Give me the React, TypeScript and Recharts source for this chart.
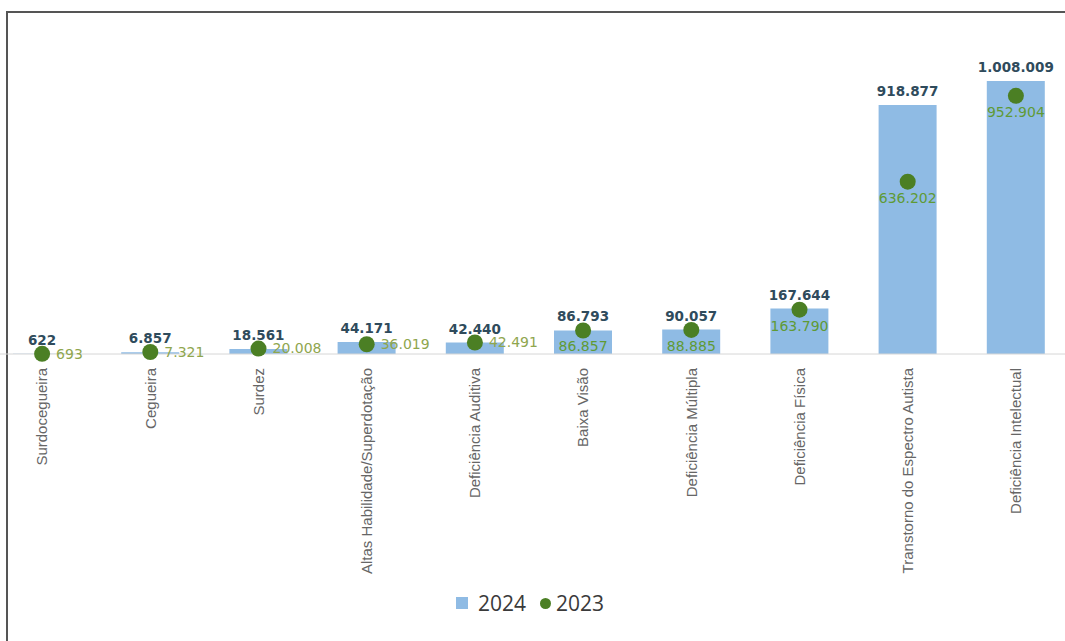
import { ComposedChart, Bar, Line, XAxis, YAxis, LabelList, Legend } from 'recharts';

const categories = [
  'Surdocegueira',
  'Cegueira',
  'Surdez',
  'Altas Habilidade/Superdotação',
  'Deficiência Auditiva',
  'Baixa Visão',
  'Deficiência Múltipla',
  'Deficiência Física',
  'Transtorno do Espectro Autista',
  'Deficiência Intelectual',
];
const values2024 = [622, 6857, 18561, 44171, 42440, 86793, 90057, 167644, 918877, 1008009];
const values2023 = [693, 7321, 20008, 36019, 42491, 86857, 88885, 163790, 636202, 952904];

const data = categories.map((name, i) => ({ name, y2024: values2024[i], y2023: values2023[i] }));

const BLUE = '#8fbbe4';
const GREEN = '#4b7f24';

// 1.008.009 style
const fmt = (v: number) => String(v).replace(/\B(?=(\d{3})+(?!\d))/g, '.');

function CategoryTick(props: any) {
  const { x, y, payload } = props;
  return (
    <text
      x={x}
      y={y + 6}
      dy="0.35em"
      transform={`rotate(-90, ${x}, ${y + 6})`}
      textAnchor="end"
      fill="#666"
      fontSize={15}
      fontFamily="'Liberation Sans', Arial, sans-serif"
    >
      {payload.value}
    </text>
  );
}

function Label2023(props: any) {
  const { x, y, value } = props;
  // small values sit to the right of the dot, larger ones below it
  if (value < 50000) {
    return (
      <text x={x + 14} y={y} dy="0.35em" textAnchor="start" fill="#8fa64e" fontSize={14}
        fontFamily="'DejaVu Sans', sans-serif">
        {fmt(value)}
      </text>
    );
  }
  return (
    <text x={x} y={y + 16} dy="0.35em" textAnchor="middle" fill="#5f9a35" fontSize={14}
      fontFamily="'DejaVu Sans', sans-serif">
      {fmt(value)}
    </text>
  );
}

function LegendBox() {
  const item = { display: 'flex', alignItems: 'center', margin: '0 7px' } as const;
  return (
    <div style={{ display: 'flex', justifyContent: 'center', fontFamily: "'Open Sans', sans-serif", fontSize: 21, color: '#3a3a3a' }}>
      <div style={item}>
        <span style={{ width: 12, height: 12, background: BLUE, marginRight: 10, display: 'inline-block' }} />
        2024
      </div>
      <div style={item}>
        <span style={{ width: 11, height: 11, borderRadius: 6, background: GREEN, marginRight: 5, display: 'inline-block' }} />
        2023
      </div>
    </div>
  );
}

export default function App() {
  return (
    <div style={{ position: 'absolute', left: 0, top: 0, width: 1065, height: 641, overflow: 'hidden', background: '#fff' }}>
      <div style={{ position: 'absolute', left: 6, top: 11, width: 2, height: 640, background: '#555' }} />
      <div style={{ position: 'absolute', left: 6, top: 11, width: 1065, height: 2, background: '#555' }} />
      <div style={{ position: 'absolute', left: -20, top: 0 }}>
        <ComposedChart width={1100} height={641} data={data} margin={{ top: 56, right: 10, bottom: 57, left: 8 }}>
          <XAxis dataKey="name" interval={0} height={230} tickLine={false} axisLine={{ stroke: '#d6d6d6' }} tick={<CategoryTick />} />
          <YAxis hide domain={[0, 1100000]} />
          <Bar dataKey="y2024" fill={BLUE} barSize={58} isAnimationActive={false}>
            <LabelList dataKey="y2024" position="top" offset={9} formatter={(v: any) => fmt(v)}
              style={{ fill: '#2f4b5c', fontSize: 13.5, fontWeight: 700, fontFamily: "'DejaVu Sans', sans-serif" }} />
          </Bar>
          <Line dataKey="y2023" stroke="none" legendType="circle" isAnimationActive={false}
            dot={{ r: 8, fill: GREEN, stroke: 'none' }} activeDot={false}>
            <LabelList dataKey="y2023" content={<Label2023 />} />
          </Line>
          <Legend verticalAlign="middle" align="center" layout="horizontal"
            wrapperStyle={{ top: 589, left: 0, width: 1100 }} content={<LegendBox />} />
        </ComposedChart>
      </div>
    </div>
  );
}
